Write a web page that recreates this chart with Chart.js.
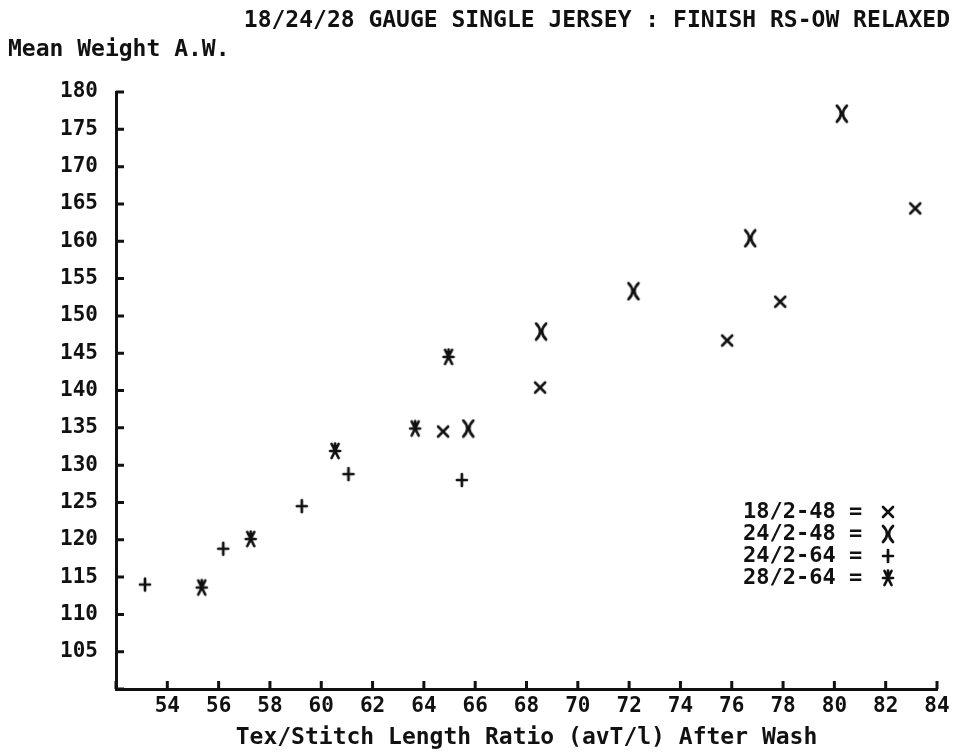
<!DOCTYPE html>
<html>
<head>
<meta charset="utf-8">
<script src="https://cdn.jsdelivr.net/npm/chart.js@4.4.1/dist/chart.umd.min.js"></script>
<style>
  body { margin: 0; background: #fff; }
  canvas { display: block; }
</style>
</head>
<body>
<canvas id="gaugeChart" width="967" height="753"></canvas>
<script>
// values
const seriesNames = ['18/2-48', '24/2-48', '24/2-64', '28/2-64'];

const x18_48 = [64.75, 68.53, 75.82, 77.89, 83.15];
const y18_48 = [134.5, 140.4, 146.7, 151.9, 164.4];

const x24_48 = [65.73, 68.57, 72.17, 76.72, 80.29];
const y24_48 = [134.9, 147.9, 153.3, 160.4, 177.1];

const x24_64 = [53.13, 56.18, 59.24, 61.06, 65.48];
const y24_64 = [114.0, 118.8, 124.5, 128.8, 128.0];

const x28_64 = [55.34, 57.25, 60.54, 63.66, 64.96];
const y28_64 = [113.6, 120.1, 131.9, 134.9, 144.5];

const xTicks = [52, 54, 56, 58, 60, 62, 64, 66, 68, 70, 72, 74, 76, 78, 80, 82, 84];
const yTicks = [100, 105, 110, 115, 120, 125, 130, 135, 140, 145, 150, 155, 160, 165, 170, 175, 180];

const INK = '#111';
const FONT = '"DejaVu Sans Mono", "Liberation Mono", monospace';

// plotter-like glyphs for the markers
function makeMarker(kind) {
  const c = document.createElement('canvas');
  c.width = 16; c.height = 20;
  const g = c.getContext('2d');
  g.strokeStyle = INK;
  g.lineWidth = 2.7;
  g.lineCap = 'round';
  g.beginPath();
  if (kind === 'x') {
    g.moveTo(3, 5); g.lineTo(13, 15);
    g.moveTo(13, 5); g.lineTo(3, 15);
  } else if (kind === 'X') {
    g.moveTo(3, 2); g.quadraticCurveTo(11, 10, 3, 18);
    g.moveTo(13, 2); g.quadraticCurveTo(5, 10, 13, 18);
  } else if (kind === '+') {
    g.moveTo(3, 10); g.lineTo(13, 10);
    g.moveTo(8, 4); g.lineTo(8, 16);
  } else {
    g.moveTo(4.5, 3); g.lineTo(11.5, 17);
    g.moveTo(11.5, 3); g.lineTo(4.5, 17);
    g.moveTo(3, 10); g.lineTo(13, 10);
    g.moveTo(8, 2.5); g.lineTo(8, 6);
  }
  g.stroke();
  return c;
}

const markers = [makeMarker('x'), makeMarker('X'), makeMarker('+'), makeMarker('*')];

function pts(xs, ys) {
  return xs.map((x, i) => ({ x: x, y: ys[i] }));
}

const seriesData = [
  pts(x18_48, y18_48),
  pts(x24_48, y24_48),
  pts(x24_64, y24_64),
  pts(x28_64, y28_64)
];

// ticks pointing into the plot, like the original plotter axes
const inwardTicks = {
  id: 'inwardTicks',
  afterDraw(chart) {
    const { ctx, chartArea, scales } = chart;
    ctx.save();
    ctx.strokeStyle = INK;
    ctx.lineWidth = 3;
    ctx.beginPath();
    xTicks.forEach(v => {
      const px = scales.x.getPixelForValue(v);
      ctx.moveTo(px, chartArea.bottom);
      ctx.lineTo(px, chartArea.bottom - 8);
    });
    yTicks.forEach(v => {
      const py = scales.y.getPixelForValue(v);
      ctx.moveTo(chartArea.left, py);
      ctx.lineTo(chartArea.left + 8, py);
    });
    ctx.stroke();
    ctx.restore();
  }
};

// key written inside the plot: "18/2-48 = x" etc.
const keyBox = {
  id: 'keyBox',
  afterDraw(chart) {
    const { ctx, chartArea } = chart;
    const left = chartArea.right - 194;
    const top = chartArea.bottom - 177;
    ctx.save();
    ctx.fillStyle = INK;
    ctx.font = 'bold 22px ' + FONT;
    ctx.textAlign = 'left';
    ctx.textBaseline = 'middle';
    seriesNames.forEach((name, i) => {
      const y = top + i * 22;
      ctx.fillText(name + ' =', left, y);
      const m = markers[i];
      ctx.drawImage(m, left + 145 - m.width / 2, y - m.height / 2);
    });
    ctx.restore();
  }
};

Chart.defaults.font.family = FONT;
Chart.defaults.font.weight = 'bold';
Chart.defaults.color = INK;

new Chart(document.getElementById('gaugeChart'), {
  type: 'scatter',
  data: {
    datasets: seriesNames.map((name, i) => ({
      label: name,
      data: seriesData[i],
      pointStyle: markers[i],
      pointRadius: 8,
      showLine: false
    }))
  },
  options: {
    responsive: false,
    animation: false,
    layout: { padding: { left: 8, right: 17, top: 0, bottom: 0 } },
    plugins: {
      legend: { display: false },
      tooltip: { enabled: false },
      title: {
        display: true,
        text: '18/24/28 GAUGE SINGLE JERSEY : FINISH RS-OW RELAXED',
        align: 'end',
        color: INK,
        font: { size: 23, weight: 'bold', lineHeight: 1 },
        padding: { top: 10, bottom: 6 }
      },
      subtitle: {
        display: true,
        text: 'Mean Weight A.W.',
        align: 'start',
        color: INK,
        font: { size: 23, weight: 'bold', lineHeight: 1 },
        padding: { top: 0, bottom: 30 }
      }
    },
    scales: {
      x: {
        type: 'linear',
        min: 52,
        max: 84,
        afterBuildTicks(scale) {
          scale.ticks = xTicks.map(v => ({ value: v }));
        },
        afterFit(scale) { scale.height = 64; },
        grid: { display: false, drawTicks: false },
        border: { display: true, color: INK, width: 3 },
        ticks: {
          padding: 5,
          maxRotation: 0,
          autoSkip: false,
          font: { size: 21, weight: 'bold' },
          callback: v => (v === 52 ? '' : v)
        },
        title: {
          display: true,
          text: 'Tex/Stitch Length Ratio (avT/l) After Wash',
          font: { size: 23, weight: 'bold', lineHeight: 1.2 },
          padding: { top: 0, bottom: 1 }
        }
      },
      y: {
        type: 'linear',
        min: 100,
        max: 180,
        afterBuildTicks(scale) {
          scale.ticks = yTicks.map(v => ({ value: v }));
        },
        afterFit(scale) { scale.width = 108; },
        grid: { display: false, drawTicks: false },
        border: { display: true, color: INK, width: 3 },
        ticks: {
          padding: 18,
          autoSkip: false,
          font: { size: 21, weight: 'bold' },
          callback: v => (v === 100 ? '' : v)
        }
      },
      // empty spacer so the title can run past the plot's right edge
      spacer: {
        type: 'linear',
        position: 'right',
        display: true,
        afterFit(scale) { scale.width = 13; },
        grid: { display: false, drawTicks: false },
        border: { display: false },
        ticks: { display: false }
      }
    }
  },
  plugins: [inwardTicks, keyBox]
});
</script>
</body>
</html>
